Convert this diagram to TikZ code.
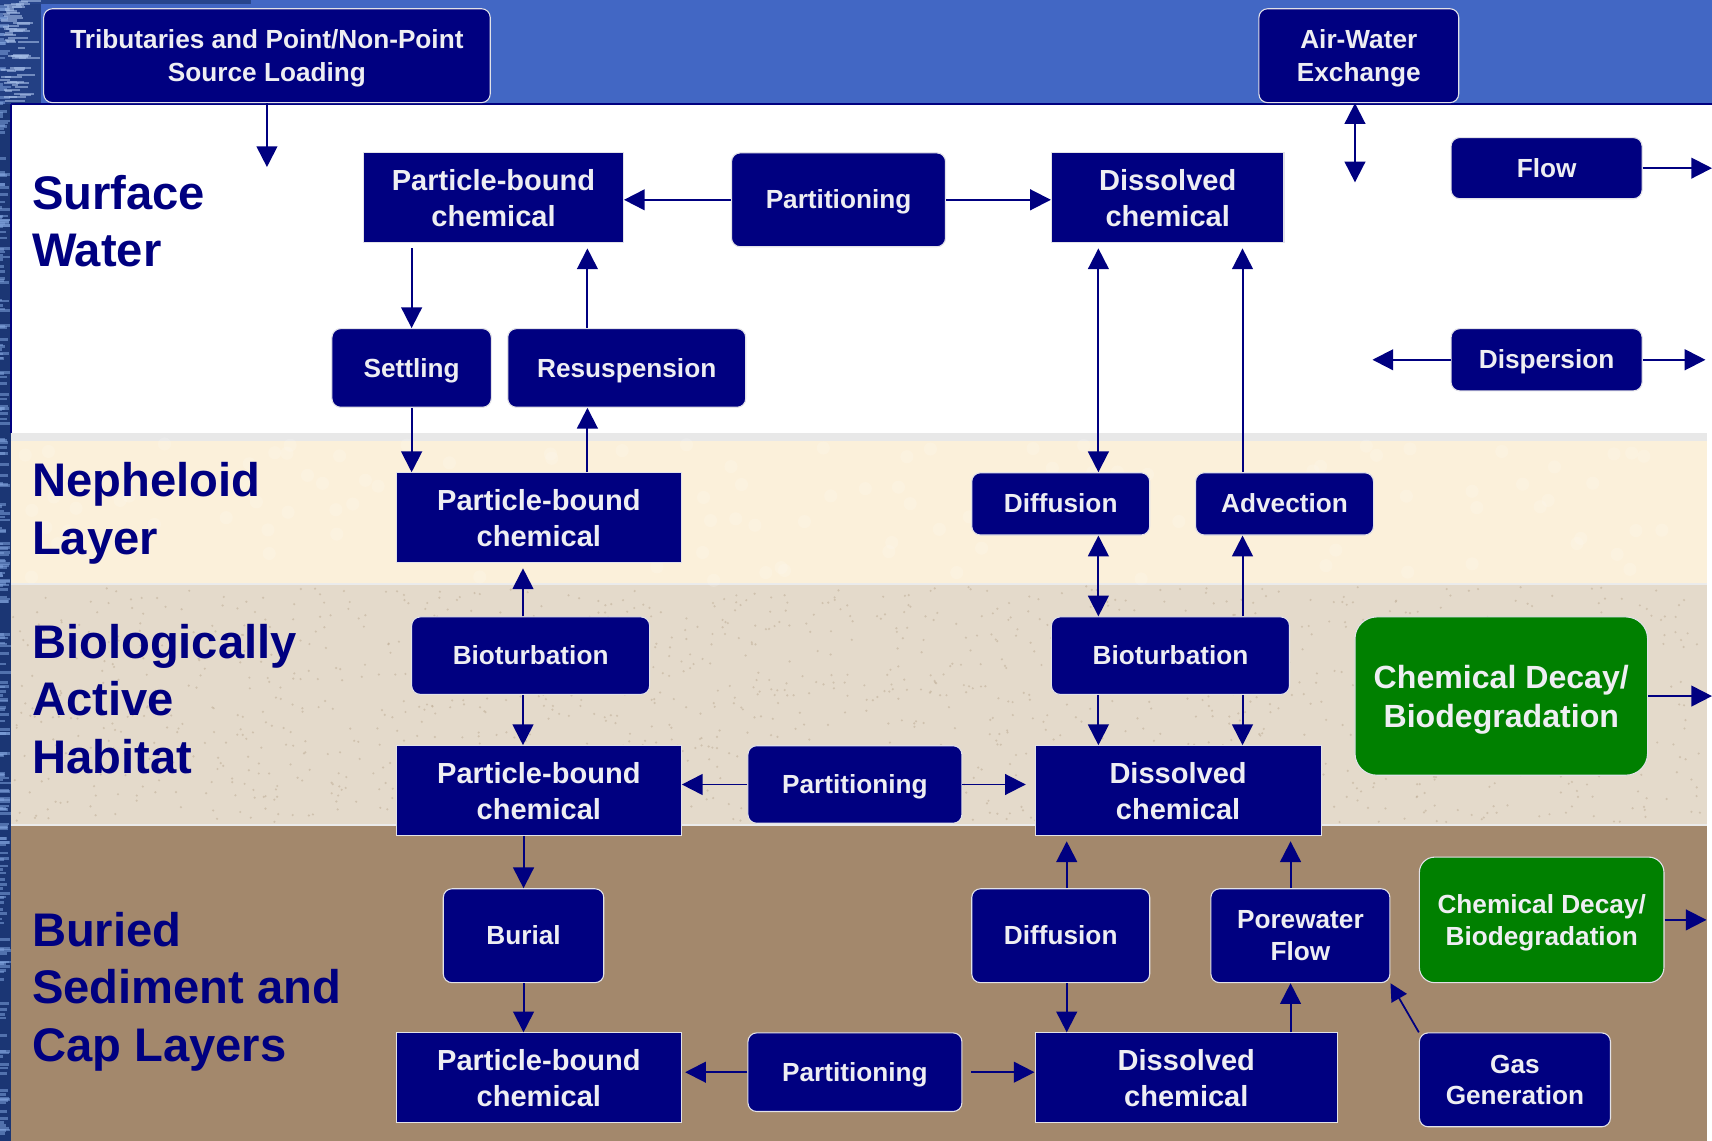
\documentclass[tikz,border=0pt]{standalone}
\usepackage{fontspec}
\setmainfont{Liberation Sans}
\usetikzlibrary{arrows.meta}
\definecolor{nv}{HTML}{000080}
\definecolor{gr}{HTML}{008000}
\definecolor{band}{HTML}{4267C4}
\definecolor{neph}{HTML}{FBF0DA}
\definecolor{bio}{HTML}{E4DACB}
\definecolor{speck}{HTML}{BFAE97}
\definecolor{bur}{HTML}{A3886C}
\definecolor{txt}{HTML}{EEEEF2}
\definecolor{edgec}{HTML}{E2E2E8}
\definecolor{water}{HTML}{1B3674}
\definecolor{streak}{HTML}{7FA2DC}
\begin{document}
\begin{tikzpicture}[x=0.5pt,y=-0.5pt,
  base/.style={fill=nv, draw=edgec, line width=0.5pt, text=txt, font=\bfseries\fontsize{12}{14.5}\selectfont, align=center, inner sep=0pt},
  one/.style={execute at begin node={\rule{0pt}{0.905em}}, execute at end node={\rule[-0.212em]{0pt}{0pt}}},
  ml/.style={text depth=#1},
  ml/.default=-2pt,
  rbox/.style={base, rounded corners=4pt},
  sbox/.style={base, ml, font=\bfseries\fontsize{13.3}{16.5}\selectfont},
  gbox/.style={base, fill=gr, rounded corners=7pt},
  sz/.style 2 args={minimum width=#1pt, minimum height=#2pt},
  lbl/.style={text=nv, font=\bfseries\fontsize{21.6}{26.3}\selectfont, align=left, inner sep=0pt, anchor=west},
  arr/.style={draw=nv, line width=0.9pt, -{Triangle[length=9.5pt,width=9.5pt]}},
  darr/.style={draw=nv, line width=0.9pt, {Triangle[length=9.5pt,width=9.5pt]}-{Triangle[length=9.5pt,width=9.5pt]}}
]
\useasboundingbox (0,0) rectangle (1568,1045);
% ---------- background ----------
\fill[white] (0,0) rectangle (1568,1045);
\fill[band] (0,0) rectangle (1568,95);
\fill[white] (10,95) rectangle (1568,397);
\fill[black!9] (10,397) rectangle (1563,404);
\fill[neph] (10,404) rectangle (1563,535);
\fill[bio] (10,535) rectangle (1563,755);
\fill[bur] (10,756) rectangle (1563,1045);
\draw[black!8, line width=0.6pt] (10,535) -- (1563,535);
\draw[black!8, line width=0.6pt] (10,755.5) -- (1563,755.5);
\pgfmathsetseed{7}
\foreach \i in {1,...,1400}{
  \pgfmathsetmacro\xx{12+rnd*1548}
  \pgfmathsetmacro\yy{537+rnd*216}
  \fill[speck, opacity=0.55] (\xx,\yy) circle (0.55pt);
}
\foreach \i in {1,...,120}{
  \pgfmathsetmacro\xx{12+rnd*1548}
  \pgfmathsetmacro\yy{406+rnd*126}
  \fill[white, opacity=0.15] (\xx,\yy) circle (3pt);
}
% water texture, left edge
\fill[water] (0,0) rectangle (10,1045);
\fill[water!80!band] (0,0) rectangle (38,95);
\fill[water!70!band] (0,0) rectangle (230,4);
\foreach \i in {1,...,260}{
  \pgfmathsetmacro\yy{rnd*1045}
  \pgfmathsetmacro\ww{2+rnd*8}
  \fill[streak, opacity=0.55] (0,\yy) rectangle (\ww,\yy+2.5);
}
\foreach \i in {1,...,60}{
  \pgfmathsetmacro\yy{rnd*93}
  \pgfmathsetmacro\xs{rnd*20}
  \pgfmathsetmacro\ww{6+rnd*14}
  \fill[streak!70!white, opacity=0.6] (\xs,\yy) rectangle (\xs+\ww,\yy+2);
}
\draw[nv, line width=1pt] (10,95.5) -- (1568,95.5);
\draw[nv, line width=0.8pt] (10.3,95) -- (10.3,397);

% ---------- layer labels ----------
\node[lbl] (lsw) at (29,202.5) {Surface\\Water};
\node[lbl] (lnl) at (29,470) {Nepheloid\\Layer};
\node[lbl] (lba) at (29,640) {Biologically\\Active\\Habitat};
\node[lbl] (lbs) at (29,908) {Buried\\Sediment and\\Cap Layers};

% ---------- nodes ----------
\node[rbox, ml, sz={204.5}{43}, font=\bfseries\fontsize{12}{15}\selectfont] (trib) at (244.5,51) {Tributaries and Point/Non-Point\\Source Loading};
\node[rbox, ml, sz={91.5}{43}, font=\bfseries\fontsize{12}{15}\selectfont] (aw) at (1244.5,51) {Air-Water\\Exchange};
\node[sbox, sz={119}{41}] (pb1) at (452,181) {Particle-bound\\chemical};
\node[rbox, one, sz={98}{43}] (part1) at (768,183) {Partitioning};
\node[sbox, sz={106.5}{41}] (dis1) at (1069.5,181) {Dissolved\\chemical};
\node[rbox, one, sz={87.5}{28}] (flow) at (1416.5,154) {Flow};
\node[rbox, one, sz={73}{36}] (set) at (377,337) {Settling};
\node[rbox, one, sz={109}{36}] (res) at (574,337) {Resuspension};
\node[rbox, one, sz={87.5}{28.5}] (disp) at (1416.5,329.5) {Dispersion};
\node[sbox, sz={130.5}{41}] (pb2) at (493.5,474) {Particle-bound\\chemical};
\node[rbox, one, sz={81.5}{28.5}] (diffN) at (971.5,461.5) {Diffusion};
\node[rbox, one, sz={81.5}{28.5}] (adv) at (1176.5,461.5) {Advection};
\node[rbox, one, sz={109}{35.5}] (bioL) at (486,600.5) {Bioturbation};
\node[rbox, one, sz={109}{35.5}] (bioR) at (1072,600.5) {Bioturbation};
\node[gbox, ml, rounded corners=10pt, sz={134}{72.5}, font=\bfseries\fontsize{14.7}{18}\selectfont] (gb) at (1375,637.5) {Chemical Decay/\\Biodegradation};
\node[sbox, sz={130.5}{41}] (pb3) at (493.5,724) {Particle-bound\\chemical};
\node[rbox, one, sz={98}{35.5}] (part2) at (783,718.5) {Partitioning};
\node[sbox, sz={131}{41}] (dis3) at (1079,724) {Dissolved\\chemical};
\node[rbox, one, sz={73.5}{43}] (burial) at (479.5,857) {Burial};
\node[rbox, one, sz={81.5}{43}] (diffB) at (971.5,857) {Diffusion};
\node[rbox, ml, sz={82}{43}] (pore) at (1191,857) {Porewater\\Flow};
\node[gbox, ml=-1.5pt, sz={112}{57.5}] (gs) at (1412,842.5) {Chemical Decay/\\Biodegradation};
\node[sbox, sz={130.5}{41}] (pb4) at (493.5,987) {Particle-bound\\chemical};
\node[rbox, one, sz={98}{36}] (part3) at (783,982) {Partitioning};
\node[sbox, sz={138.5}{41}] (dis4) at (1086.5,987) {Dissolved\\chemical};
\node[rbox, ml, sz={87.5}{43}] (gas) at (1387.5,989) {Gas\\Generation};

% ---------- free ends ----------
\coordinate (tribEnd) at (244.5,153);
\coordinate (awEnd) at (1241,167);
\coordinate (flowEnd) at (1568,154);
\coordinate (dispL) at (1257,329.5);
\coordinate (dispR) at (1562,329.5);
\coordinate (gbEnd) at (1568,637.5);
\coordinate (gsEnd) at (1563,842.5);

% ---------- connectors ----------
\draw[arr] (trib.south) -- (tribEnd);
\draw[darr] (aw.south -| awEnd) -- (awEnd);
\draw[arr] (flow.east) -- (flowEnd);
\draw[arr] (disp.west) -- (dispL);
\draw[arr] (disp.east) -- (dispR);
\draw[arr] (part1.west) -- (pb1.east |- part1.west);
\draw[arr] (part1.east) -- (dis1.west |- part1.east);
\draw[arr, shorten <=2.5pt] (set.north |- pb1.south) -- (set.north);
\draw[arr, shorten >=2.5pt] ([xshift=-18pt]res.north) -- ([xshift=-18pt]res.north |- pb1.south);
\draw[arr] (set.south) -- (set.south |- pb2.north);
\draw[arr] ([xshift=-18pt]res.south |- pb2.north) -- ([xshift=-18pt]res.south);
\draw[darr, shorten <=2.5pt] ([xshift=17.25pt]diffN.north |- dis1.south) -- ([xshift=17.25pt]diffN.north);
\draw[arr, shorten >=2.5pt] ([xshift=-19.25pt]adv.north) -- ([xshift=-19.25pt]adv.north |- dis1.south);
\draw[arr, shorten >=2.5pt] ([xshift=-3.5pt]bioL.north) -- ([xshift=-3.5pt]bioL.north |- pb2.south);
\draw[arr] ([xshift=-3.5pt]bioL.south) -- ([xshift=-3.5pt]bioL.south |- pb3.north);
\draw[darr] ([xshift=17.25pt]diffN.south) -- ([xshift=17.25pt]diffN.south |- bioR.north);
\draw[arr] ([xshift=-19.25pt]adv.south |- bioR.north) -- ([xshift=-19.25pt]adv.south);
\draw[arr] ([xshift=-33pt]bioR.south) -- ([xshift=-33pt]bioR.south |- dis3.north);
\draw[arr] ([xshift=33pt]bioR.south) -- ([xshift=33pt]bioR.south |- dis3.north);
\draw[arr] (part2.west) -- (pb3.east |- part2.west);
\draw[arr, shorten >=4pt] (part2.east) -- (dis3.west |- part2.east);
\draw[arr] (gb.east) -- (gbEnd);
\draw[arr] (burial.north |- pb3.south) -- (burial.north);
\draw[arr, shorten >=2.5pt] ([xshift=2.75pt]diffB.north) -- ([xshift=2.75pt]diffB.north |- dis3.south);
\draw[arr, shorten >=2.5pt] ([xshift=-4.5pt]pore.north) -- ([xshift=-4.5pt]pore.north |- dis3.south);
\draw[arr] (gs.east) -- (gsEnd);
\draw[arr] (burial.south) -- (burial.south |- pb4.north);
\draw[arr] ([xshift=2.75pt]diffB.south) -- ([xshift=2.75pt]diffB.south |- dis4.north);
\draw[arr] ([xshift=-4.5pt]pore.south |- dis4.north) -- ([xshift=-4.5pt]pore.south);
\draw[arr, line width=0.8pt, -{Triangle[length=8pt,width=8pt]}] (gas.north west) -- (pore.south east);
\draw[arr, shorten >=1.5pt] (part3.west) -- (pb4.east |- part3.west);
\draw[arr, shorten <=4pt] (part3.east) -- (dis4.west |- part3.east);
\end{tikzpicture}
\end{document}
